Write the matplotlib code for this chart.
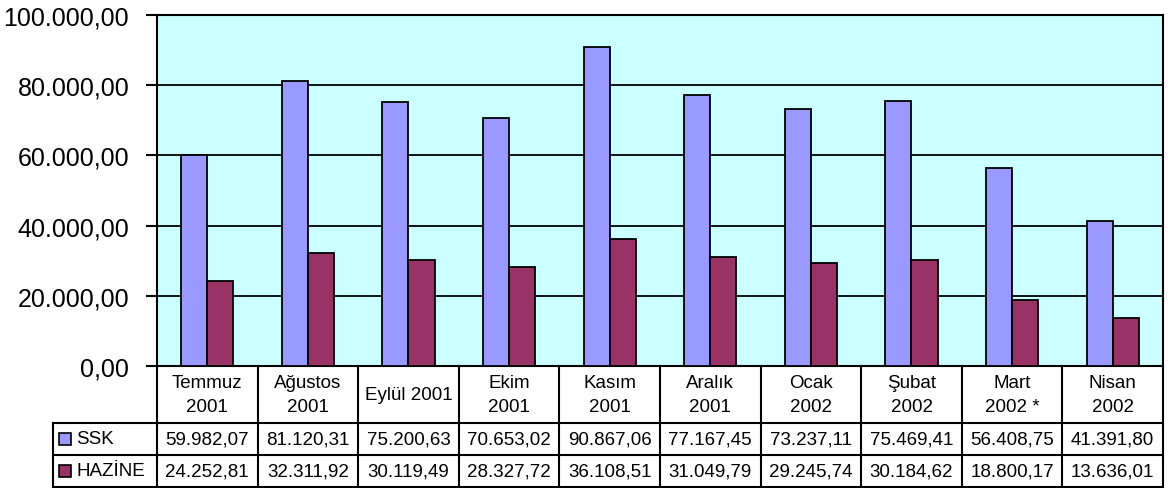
import matplotlib
matplotlib.use("Agg")
import matplotlib.pyplot as plt
from matplotlib.ticker import FuncFormatter, FixedLocator
from matplotlib.patches import Rectangle
import numpy as np

categories = ["Temmuz\n2001", "Ağustos\n2001", "Eylül 2001", "Ekim\n2001", "Kasım\n2001",
              "Aralık\n2001", "Ocak\n2002", "Şubat\n2002", "Mart\n2002 *", "Nisan\n2002"]
series_names = ["SSK", "HAZİNE"]
ssk = [59982.07, 81120.31, 75200.63, 70653.02, 90867.06, 77167.45, 73237.11, 75469.41, 56408.75, 41391.80]
hazine = [24252.81, 32311.92, 30119.49, 28327.72, 36108.51, 31049.79, 29245.74, 30184.62, 18800.17, 13636.01]
yticks = [0, 20000, 40000, 60000, 80000, 100000]
colors = ["#9999FF", "#993366"]

plt.rcParams['font.family'] = ['Liberation Sans', 'DejaVu Sans']

def tr(v, pos=None):
    s = f"{v:,.2f}"
    return s.replace(",", "X").replace(".", ",").replace("X", ".")

W, H = 1168, 489
fig = plt.figure(figsize=(W / 100, H / 100), dpi=100)

def px(l, t, r, b):
    return [l / W, 1 - b / H, (r - l) / W, (b - t) / H]

L, R, T, B = 157, 1163, 16, 367
ax = fig.add_axes(px(L, T, R, B))
n = len(categories)
x = np.arange(n)
bw = 0.26
ax.set_facecolor("#CCFFFF")
ax.bar(x - bw / 2, ssk, width=bw, color=colors[0], edgecolor="black", linewidth=1.3, zorder=3)
ax.bar(x + bw / 2, hazine, width=bw, color=colors[1], edgecolor="black", linewidth=1.3, zorder=3)
ax.set_xlim(-0.5, n - 0.5)
ax.set_ylim(0, 100000)
ax.yaxis.set_major_locator(FixedLocator(yticks))
ax.yaxis.set_major_formatter(FuncFormatter(tr))
ax.tick_params(axis='y', length=8, width=1.5, pad=12, labelsize=18, direction='out')
ax.set_xticks([])
ax.grid(axis='y', color='black', linewidth=1.3, zorder=1)
for s in ax.spines.values():
    s.set_linewidth(1.5)
    s.set_color('black')

# data table
unit = (R - L) / n
left_u = -0.5 - (L - 53) / unit
tab = fig.add_axes(px(53, B, R, 488))
tab.set_xlim(left_u, n - 0.5)
tab.set_ylim(121, 0)
tab.axis('off')
h1, h2, h3 = 57, 89, 121
lw = 1.5
fs = 13.5
for i in range(n + 1):
    tab.plot([i - 0.5, i - 0.5], [0, h3], color='black', lw=lw, clip_on=False)
tab.plot([left_u, left_u], [h1, h3], color='black', lw=lw, clip_on=False)
for yy in (h1, h2, h3):
    tab.plot([left_u, n - 0.5], [yy, yy], color='black', lw=lw, clip_on=False)

for i, c in enumerate(categories):
    tab.text(i, h1 / 2, c, ha='center', va='center', fontsize=fs, linespacing=1.55)
    tab.text(i, (h1 + h2) / 2, tr(ssk[i]), ha='center', va='center', fontsize=fs)
    tab.text(i, (h2 + h3) / 2, tr(hazine[i]), ha='center', va='center', fontsize=fs)

for k, (name, col) in enumerate(zip(series_names, colors)):
    yc = (h1 + h2) / 2 if k == 0 else (h2 + h3) / 2
    sq_l = left_u + 6 / unit
    sq_w = 12 / unit
    tab.add_patch(Rectangle((sq_l, yc - 6), sq_w, 12, facecolor=col, edgecolor='black', lw=1.2, clip_on=False))
    tab.text(left_u + 23 / unit, yc, name, ha='left', va='center', fontsize=fs)

fig.savefig("out.png", dpi=100)
